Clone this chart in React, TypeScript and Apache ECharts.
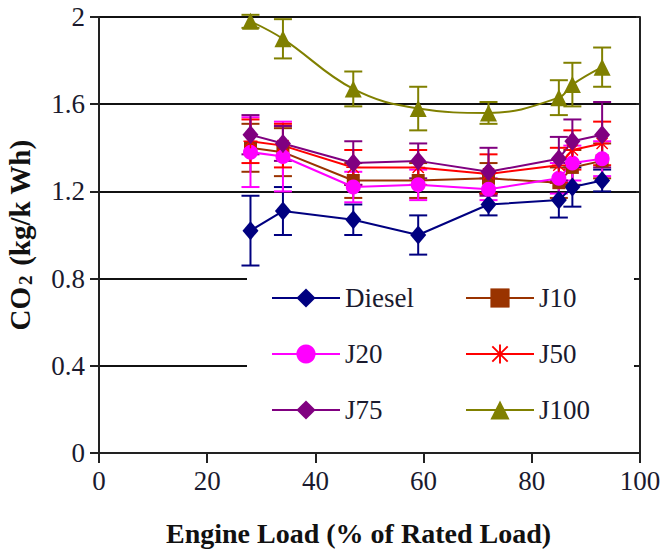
import React, { useEffect, useRef } from "react";
import * as echarts from "echarts";

const loads = [28, 34, 47, 59, 72, 85, 87.5, 93];
const xTicks = [0, 20, 40, 60, 80, 100];
const yTicks = [0, 0.4, 0.8, 1.2, 1.6, 2];

const diesel = [1.02, 1.11, 1.07, 1.0, 1.14, 1.16, 1.22, 1.25];
const dieselErr = [0.16, 0.11, 0.07, 0.09, 0.05, 0.08, 0.09, 0.05];
const j10 = [1.4, 1.38, 1.25, 1.25, 1.26, 1.24, 1.31, 1.34];
const j10Err = [0.11, 0.11, 0.08, 0.08, 0.07, 0.07, 0.08, 0.08];
const j20 = [1.38, 1.36, 1.22, 1.23, 1.21, 1.26, 1.33, 1.35];
const j20Err = [0.16, 0.16, 0.07, 0.07, 0.05, 0.07, 0.08, 0.08];
const j50 = [1.43, 1.41, 1.31, 1.31, 1.28, 1.32, 1.39, 1.42];
const j50Err = [0.1, 0.1, 0.08, 0.08, 0.09, 0.08, 0.09, 0.1];
const j75 = [1.46, 1.42, 1.33, 1.34, 1.29, 1.35, 1.43, 1.46];
const j75Err = [0.09, 0.08, 0.1, 0.08, 0.11, 0.1, 0.1, 0.15];
const j100 = [1.98, 1.9, 1.67, 1.58, 1.56, 1.63, 1.69, 1.77];
const j100Err = [0.03, 0.09, 0.08, 0.1, 0.05, 0.08, 0.1, 0.09];

const ASTERISK =
  "path://M9,0 L11,0 L11,20 L9,20 Z M0,9 L20,9 L20,11 L0,11 Z M1.3,2.7 L2.7,1.3 L18.7,17.3 L17.3,18.7 Z M17.3,1.3 L18.7,2.7 L2.7,18.7 L1.3,17.3 Z";

const seriesDefs = [
  { name: "Diesel", values: diesel, errs: dieselErr, color: "#000080", symbol: "diamond", size: [16, 19], smooth: false },
  { name: "J10", values: j10, errs: j10Err, color: "#993300", symbol: "rect", size: 13, smooth: false },
  { name: "J20", values: j20, errs: j20Err, color: "#FF00FF", symbol: "circle", size: 15, smooth: false },
  { name: "J50", values: j50, errs: j50Err, color: "#FF0000", symbol: ASTERISK, size: 14, smooth: false },
  { name: "J75", values: j75, errs: j75Err, color: "#800080", symbol: "diamond", size: [16, 19], smooth: false },
  { name: "J100", values: j100, errs: j100Err, color: "#808000", symbol: "triangle", size: 17, smooth: true },
];

const FONT = "Liberation Serif";

export default function App() {
  const ref = useRef<HTMLDivElement>(null);
  useEffect(() => {
    if (!ref.current) return;
    const chart = echarts.init(ref.current, null, { renderer: "svg" });
    const series: any[] = [];
    seriesDefs.forEach((s) => {
      series.push({
        name: s.name + " err",
        type: "custom",
        z: 2,
        data: loads.map((x, i) => [x, s.values[i], s.errs[i]]),
        renderItem: (params: any, api: any) => {
          const x = api.value(0);
          const y = api.value(1);
          const e = api.value(2);
          const top = api.coord([x, y + e]);
          const bot = api.coord([x, y - e]);
          const hw = 9;
          const style = { stroke: s.color, lineWidth: 2, fill: "none" };
          return {
            type: "group",
            children: [
              { type: "line", shape: { x1: top[0], y1: top[1], x2: bot[0], y2: bot[1] }, style },
              { type: "line", shape: { x1: top[0] - hw, y1: top[1], x2: top[0] + hw, y2: top[1] }, style },
              { type: "line", shape: { x1: bot[0] - hw, y1: bot[1], x2: bot[0] + hw, y2: bot[1] }, style },
            ],
          };
        },
        silent: true,
      });
    });
    seriesDefs.forEach((s) => {
      series.push({
        name: s.name,
        type: "line",
        z: 3,
        data: loads.map((x, i) => [x, s.values[i]]),
        symbol: s.symbol,
        symbolSize: s.size,
        smooth: s.smooth ? 0.4 : false,
        lineStyle: { color: s.color, width: 2 },
        itemStyle: { color: s.color },
        showAllSymbol: true,
      });
    });

    const legendCommon = {
      orient: "vertical",
      itemWidth: 68,
      itemHeight: 24,
      itemGap: 28,
      padding: 0,
      top: 284,
      textStyle: { fontFamily: FONT, fontSize: 27, color: "#1a1a2e", lineHeight: 28 },
    };

    chart.setOption({
      animation: false,
      backgroundColor: "#ffffff",
      grid: { left: 99, right: 24, top: 17, bottom: 96, outerBoundsMode: "none", containLabel: false },
      xAxis: {
        type: "value",
        min: xTicks[0],
        max: xTicks[xTicks.length - 1],
        interval: 20,
        name: "Engine Load (% of Rated Load)",
        nameLocation: "middle",
        nameGap: 66,
        nameTextStyle: { fontFamily: FONT, fontSize: 28, fontWeight: "bold", color: "#111", padding: [0, 22, 0, 0] },
        axisLine: { lineStyle: { color: "#222", width: 2 } },
        axisTick: { show: true, length: 10, lineStyle: { color: "#222", width: 2 } },
        axisLabel: { fontFamily: FONT, fontSize: 27, color: "#1a1a2e", margin: 14 },
        splitLine: { show: false },
      },
      yAxis: [
        {
          type: "value",
          min: yTicks[0],
          max: yTicks[yTicks.length - 1],
          interval: 0.4,
          name: "{a|CO}{s|2}{a| (kg/k Wh)}",
          nameLocation: "middle",
          nameGap: 64,
          nameTextStyle: {
            rich: {
              a: { fontFamily: FONT, fontSize: 29, fontWeight: "bold", color: "#111" },
              s: { fontFamily: FONT, fontSize: 19, fontWeight: "bold", color: "#111", padding: [12, 2, 0, 2] },
            },
          },
          axisLine: { lineStyle: { color: "#222", width: 2 } },
          axisTick: { show: true, length: 9, lineStyle: { color: "#222", width: 2 } },
          axisLabel: {
            fontFamily: FONT,
            fontSize: 27,
            color: "#1a1a2e",
            margin: 14,
            formatter: (v: number) => String(+v.toFixed(1)),
          },
          splitLine: { show: true, lineStyle: { color: "#111", width: 2 } },
        },
        {
          type: "value",
          position: "right",
          min: yTicks[0],
          max: yTicks[yTicks.length - 1],
          interval: 0.4,
          axisLine: { show: true, lineStyle: { color: "#222", width: 2 } },
          axisTick: { show: true, inside: true, length: 4, lineStyle: { color: "#222", width: 2 } },
          axisLabel: { show: false },
          splitLine: { show: false },
        },
      ],
      legend: [
        { ...legendCommon, left: 271, data: ["Diesel", "J20", "J75"] },
        { ...legendCommon, left: 465, data: ["J10", "J50", "J100"] },
      ],
      graphic: [
        {
          type: "rect",
          z: 1,
          shape: { x: 247, y: 268, width: 387, height: 178 },
          style: { fill: "#ffffff" },
          silent: true,
        },
      ],
      series,
    });
    return () => chart.dispose();
  }, []);
  return <div ref={ref} style={{ width: 664, height: 549, position: "absolute", left: 0, top: 0 }} />;
}
